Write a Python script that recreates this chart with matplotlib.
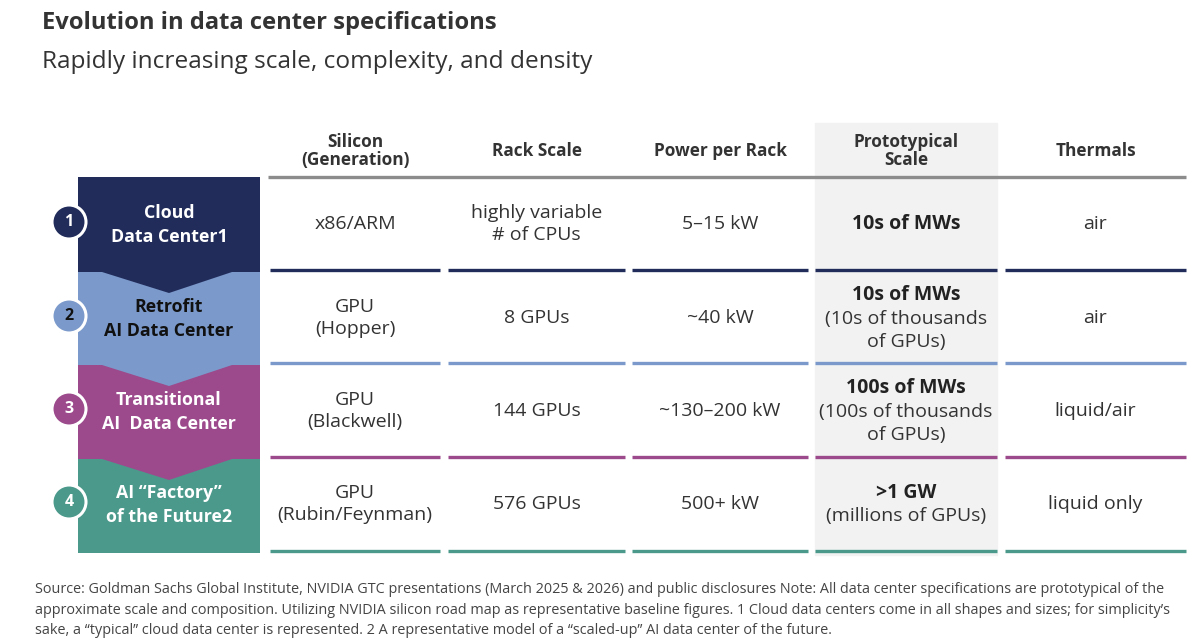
import matplotlib.pyplot as plt
from matplotlib.patches import Polygon, Circle, Rectangle

# table content
stages = ['Cloud\nData Center1', 'Retrofit\nAI Data Center', 'Transitional\nAI  Data Center',
          'AI \u201cFactory\u201d\nof the Future2']
stage_colors = ['#212c5b', '#7b9acb', '#9c4a8c', '#4b998b']
stage_text = ['white', '#111111', 'white', 'white']

headers = ['Silicon\n(Generation)', 'Rack Scale', 'Power per Rack', 'Prototypical\nScale', 'Thermals']
silicon = ['x86/ARM', 'GPU\n(Hopper)', 'GPU\n(Blackwell)', 'GPU\n(Rubin/Feynman)']
rack_scale = ['highly variable\n# of CPUs', '8 GPUs', '144 GPUs', '576 GPUs']
power = ['5\u201315 kW', '~40 kW', '~130\u2013200 kW', '500+ kW']
proto_main = ['10s of MWs', '10s of MWs', '100s of MWs', '>1 GW']
proto_sub = ['', '(10s of thousands\nof GPUs)', '(100s of thousands\nof GPUs)', '(millions of GPUs)']
thermals = ['air', 'air', 'liquid/air', 'liquid only']

title = 'Evolution in data center specifications'
subtitle = 'Rapidly increasing scale, complexity, and density'
footnote = ('Source: Goldman Sachs Global Institute, NVIDIA GTC presentations (March 2025 & 2026) and public disclosures Note: All data center specifications are prototypical of the\n'
            'approximate scale and composition. Utilizing NVIDIA silicon road map as representative baseline figures. 1 Cloud data centers come in all shapes and sizes; for simplicity\u2019s\n'
            'sake, a \u201ctypical\u201d cloud data center is represented. 2 A representative model of a \u201cscaled-up\u201d AI data center of the future.')

plt.rcParams['font.family'] = ['Open Sans', 'DejaVu Sans']
TXT = '#333333'

fig = plt.figure(figsize=(12, 6.39), dpi=100)
ax = fig.add_axes([0, 0, 1, 1])
ax.set_xlim(0, 1200)
ax.set_ylim(639, 0)
ax.axis('off')

# layout (pixel space)
col_l = [270, 448, 632, 815, 1005]
col_r = [440, 625, 808, 997, 1186]
col_c = [(a + b) / 2 for a, b in zip(col_l, col_r)]
row_top = 177
row_bot = [270, 363, 457, 551]
row_c = [224, 318, 411, 504]

# highlighted column
ax.add_patch(Rectangle((815, 123), 182, 432, color='#f2f2f2', zorder=0))

# header
for x, h in zip(col_c, headers):
    ax.text(x, 151, h, ha='center', va='center', fontsize=12.4, fontweight='bold',
            color=TXT, linespacing=0.95)
ax.plot([268, 1186], [row_top, row_top], color='#8c8c8c', lw=2.4, solid_capstyle='butt')

# chevron blocks
bx0, bx1 = 78, 260
bxm = (bx0 + bx1) / 2
tops = [row_top] + [b + 2 for b in row_bot[:-1]]
for i in range(len(stages)):
    top = tops[i]
    bot = tops[i + 1] if i < len(stages) - 1 else 553
    if i < len(stages) - 1:
        pts = [(bx0, top), (bx1, top), (bx1, bot), (232, bot), (bxm, bot + 21), (102, bot), (bx0, bot)]
    else:
        pts = [(bx0, top), (bx1, top), (bx1, bot), (bx0, bot)]
    ax.add_patch(Polygon(pts, closed=True, color=stage_colors[i], zorder=10 - i, lw=0))
    ax.text(bxm, row_c[i] + 1, stages[i], ha='center', va='center', fontsize=12.8,
            fontweight='bold', color=stage_text[i], linespacing=1.38, zorder=20)
    ax.add_patch(Circle((69, row_c[i] - 2), 17, facecolor=stage_colors[i], edgecolor='white',
                        lw=2.2, zorder=21))
    ax.text(69, row_c[i] - 2, str(i + 1), ha='center', va='center', fontsize=11.5,
            fontweight='bold', color=stage_text[i], zorder=22)

# rows
for i in range(len(stages)):
    y = row_c[i]
    cells = [silicon[i], rack_scale[i], power[i], None, thermals[i]]
    for j, c in enumerate(cells):
        if c is not None:
            ax.text(col_c[j], y, c, ha='center', va='center', fontsize=14, color=TXT,
                    linespacing=1.3)
    n_sub = proto_sub[i].count('\n') + 1 if proto_sub[i] else 0
    main_y = y - 11.5 * n_sub
    ax.text(col_c[3], main_y, proto_main[i], ha='center', va='center', fontsize=14,
            fontweight='bold', color='#222222')
    if n_sub:
        ax.text(col_c[3], main_y + 12.5 + 11.5 * n_sub, proto_sub[i], ha='center', va='center',
                fontsize=14, color=TXT, linespacing=1.3)
    for l, r in zip(col_l, col_r):
        ax.plot([l, r], [row_bot[i], row_bot[i]], color=stage_colors[i], lw=2.4,
                solid_capstyle='butt')

# titles
ax.text(42, 23, title, ha='left', va='center', fontsize=17.1, fontweight='bold', color=TXT)
ax.text(42, 62, subtitle, ha='left', va='center', fontsize=17.6, color=TXT)
ax.text(35, 610, footnote, ha='left', va='center', fontsize=10.4, color='#444444', linespacing=1.5)

fig.savefig('out.png', dpi=100)
